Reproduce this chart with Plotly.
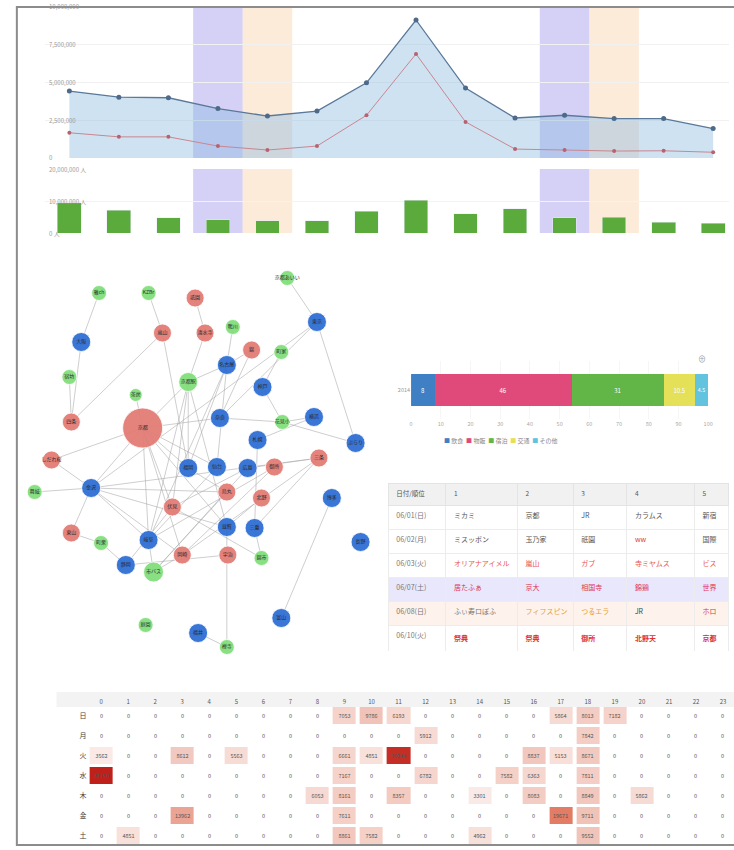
import plotly.graph_objects as go

W, H = 734, 850
FONT = "Noto Sans CJK JP, Noto Sans, sans-serif"


def px_x(v):
    return v / W


def px_y(v):
    return 1 - v / H


# ---------------- data: daily trend ----------------
dates = ["06/04", "06/05", "06/06", "06/07", "06/08", "06/09", "06/10",
         "06/11", "06/12", "06/13", "06/14", "06/15", "06/16", "06/17"]
weekday = ["水", "木", "金", "土", "日", "月", "火", "水", "木", "金", "土", "日", "月", "火"]
total_sales = [4430000, 4030000, 3990000, 3270000, 2780000, 3110000, 4980000,
               9140000, 4630000, 2650000, 2830000, 2610000, 2610000, 1950000]
member_sales = [1670000, 1400000, 1400000, 790000, 530000, 790000, 2830000,
                6890000, 2390000, 590000, 530000, 460000, 480000, 380000]
visitors = [9400000, 7100000, 4700000, 4100000, 3900000, 3900000, 6800000,
            10200000, 6000000, 7600000, 4700000, 4900000, 3300000, 3100000]
sales_ticks = [0, 2500000, 5000000, 7500000, 10000000]
visitor_ticks = [0, 10000000, 20000000]

# ---------------- data: network ----------------
node_ids = ["g1", "g2", "g3", "g4", "g5", "g6", "g7", "g8", "g9", "g10", "g11", "g12", "g13", "g14", "g15",
            "r1", "r2", "r3", "r4", "r5", "r6", "r7", "r8", "r9", "r10", "r11", "r12", "r13", "r14", "r15",
            "b1", "b2", "b3", "b4", "b5", "b6", "b7", "b8", "b9", "b10", "b11", "b12", "b13", "b14", "b15",
            "b16", "b17", "b18", "b19", "b20"]
node_labels = ["雅ch", "KZBr", "鴨川", "町家", "宿坊", "京都駅", "茶房", "花見小", "舞妓", "町衆", "市バス", "錦市", "庭園", "禅寺", "京都あいい",
               "祇園", "嵐山", "清水寺", "錦", "四条", "京都", "しだれ桜", "三条", "御所", "烏丸", "北野", "伏見", "東山", "岡崎", "宇治",
               "大阪", "東京", "名古屋", "神戸", "奈良", "横浜", "札幌", "ぶらり", "福岡", "仙台", "広島", "金沢", "博多", "滋賀", "三重",
               "岐阜", "静岡", "長野", "富山", "福井"]
node_group = ["green"] * 15 + ["red"] * 15 + ["blue"] * 20
node_x = [78, 128, 213, 262, 48, 168, 115, 263, 13, 80, 133, 242, 125, 207, 268,
          175, 142, 185, 232, 50, 122, 30, 300, 255, 207, 242, 152, 50, 162, 208,
          60, 298, 207, 243, 200, 295, 238, 337, 168, 197, 228, 70, 313, 207, 235,
          128, 105, 342, 262, 178]
node_y = [38, 38, 72, 97, 122, 127, 140, 167, 237, 288, 317, 303, 370, 392, 23,
          43, 78, 78, 95, 167, 173, 205, 203, 212, 237, 243, 252, 278, 300, 300,
          87, 67, 110, 132, 163, 162, 185, 188, 213, 212, 213, 233, 243, 272, 273,
          285, 310, 287, 363, 378]
node_weight = [15, 15, 15, 15, 15, 19, 13, 15, 15, 15, 20, 15, 15, 15, 15,
               18, 18, 18, 18, 18, 40, 18, 18, 18, 18, 18, 18, 18, 18, 18,
               19, 19, 19, 19, 19, 19, 19, 19, 19, 19, 19, 19, 19, 19, 19,
               19, 19, 19, 19, 19]
edges = [("r6", "b12"), ("r6", "b16"), ("r6", "g6"), ("r6", "b9"), ("r6", "r12"), ("r6", "b5"),
         ("r6", "r7"), ("r6", "g7"), ("r6", "b10"), ("r6", "r14"), ("r6", "b14"),
         ("r5", "r2"), ("b1", "r5"), ("g1", "b1"), ("g5", "r5"),
         ("b12", "b16"), ("b12", "r14"), ("b12", "b14"), ("b12", "r10"), ("b12", "r13"),
         ("b12", "r7"), ("b12", "g9"), ("b12", "r8"),
         ("g6", "b9"), ("g6", "b14"), ("g6", "r12"), ("g6", "b3"), ("g6", "r3"), ("g6", "b16"),
         ("b3", "b9"), ("b3", "b16"), ("b3", "r4"), ("b3", "b10"),
         ("b2", "b8"), ("b2", "b5"), ("b2", "b12"),
         ("b4", "g8"), ("b5", "g8"), ("g8", "b8"), ("b6", "b7"), ("b6", "g8"),
         ("r8", "b11"), ("r8", "b15"), ("r8", "r14"), ("r9", "r14"), ("r9", "b16"),
         ("r11", "b14"), ("b7", "b15"), ("b10", "b16"), ("b11", "r12"), ("b11", "g11"),
         ("r10", "b9"), ("r10", "g11"), ("r12", "b17"), ("r12", "g12"),
         ("b13", "b19"), ("b15", "g12"), ("b14", "g14"), ("b16", "g11"), ("g11", "r14"),
         ("r15", "b17"), ("r1", "r3"), ("g2", "r2"), ("r2", "b9"), ("g3", "b3"), ("g4", "b4"),
         ("r4", "b5"), ("g15", "b2"), ("b17", "g10"), ("r13", "g10"), ("b20", "g14")]
group_colors = {"green": "#82df7c", "red": "#e37c76", "blue": "#2f6fd4"}

# ---------------- data: share bar ----------------
share_category = ["2014"]
share_names = ["飲食", "物販", "宿泊", "交通", "その他"]
share_values = [8, 46, 31, 10.5, 4.5]
share_colors = ["#3f80c4", "#df4a7a", "#62b547", "#e4e057", "#62c3df"]
share_ticks = [0, 10, 20, 30, 40, 50, 60, 70, 80, 90, 100]

# ---------------- data: ranking table ----------------
table_header = ["日付/順位", "1", "2", "3", "4", "5"]
table_dates = ["06/01(日)", "06/02(月)", "06/03(火)", "06/07(土)", "06/08(日)", "06/10(火)"]
rank1 = ["ミカミ", "ミスッポン", "オリアナアイメル", "居たふぁ", "ふぃ寿ロぽふ", "<b>祭典</b>"]
rank2 = ["京都", "玉乃家", "嵐山", "京大", "フィフスピン", "<b>祭典</b>"]
rank3 = ["JR", "祇園", "ガブ", "相国寺", "つるエラ", "<b>御所</b>"]
rank4 = ["カラムス", "ww", "寺ミヤムス", "錦鶏", "JR", "<b>北野天</b>"]
rank5 = ["新宿", "国際", "ビス", "世界", "ホロ", "<b>京都</b>"]
row_kind = ["normal", "normal", "up", "weekend_sat", "weekend_sun", "hot"]

# ---------------- data: hourly heatmap ----------------
hours = list(range(24))
days = ["日", "月", "火", "水", "木", "金", "土"]
heat_sun = [0, 0, 0, 0, 0, 0, 0, 0, 0, 7053, 9786, 6193, 0, 0, 0, 0, 0, 5864, 8013, 7182, 0, 0, 0, 0]
heat_mon = [0, 0, 0, 0, 0, 0, 0, 0, 0, 0, 0, 0, 5912, 0, 0, 0, 0, 0, 7842, 0, 0, 0, 0, 0]
heat_tue = [3562, 0, 0, 8612, 0, 5563, 0, 0, 0, 6661, 4851, 30244, 0, 0, 0, 0, 8837, 5153, 8671, 0, 0, 0, 0, 0]
heat_wed = [32150, 0, 0, 0, 0, 0, 0, 0, 0, 7167, 0, 0, 6782, 0, 0, 7582, 6363, 0, 7811, 0, 0, 0, 0, 0]
heat_thu = [0, 0, 0, 0, 0, 0, 0, 0, 6053, 8161, 0, 8357, 0, 0, 3301, 0, 8083, 0, 8849, 0, 5862, 0, 0, 0]
heat_fri = [0, 0, 0, 13962, 0, 0, 0, 0, 0, 7611, 0, 0, 0, 0, 0, 0, 0, 19671, 9711, 0, 0, 0, 0, 0]
heat_sat = [0, 4851, 0, 0, 0, 0, 0, 0, 0, 8861, 7582, 0, 0, 0, 4962, 0, 0, 0, 9552, 0, 0, 0, 0, 0]

fig = go.Figure()

# ---- trend lines ----
fig.add_trace(go.Scatter(x=dates, y=total_sales, mode="lines+markers", xaxis="x", yaxis="y",
                         line=dict(color="#5a7898", width=1.3), marker=dict(size=5, color="#4d6a8a"),
                         fill="tozeroy", fillcolor="rgba(140,185,225,0.42)", showlegend=False))
fig.add_trace(go.Scatter(x=dates, y=member_sales, mode="lines+markers", xaxis="x", yaxis="y",
                         line=dict(color="#c98690", width=1), marker=dict(size=4, color="#b8626f"),
                         showlegend=False))
fig.add_trace(go.Bar(x=dates, y=visitors, xaxis="x2", yaxis="y2", marker_color="#5aab3c",
                     showlegend=False))

# ---- network ----
pos = {nid: (node_x[i], node_y[i]) for i, nid in enumerate(node_ids)}
ex, ey = [], []
for a, b in edges:
    ex += [pos[a][0], pos[b][0], None]
    ey += [pos[a][1], pos[b][1], None]
fig.add_trace(go.Scatter(x=ex, y=ey, mode="lines", xaxis="x3", yaxis="y3",
                         line=dict(color="rgba(165,165,165,0.55)", width=1), hoverinfo="skip",
                         showlegend=False))
fig.add_trace(go.Scatter(x=node_x, y=node_y, mode="markers+text", xaxis="x3", yaxis="y3",
                         text=node_labels, textposition="middle center",
                         textfont=dict(size=5, color="#2a2a2a", family=FONT),
                         marker=dict(size=node_weight, color=[group_colors[g] for g in node_group],
                                     opacity=0.95, line=dict(color="rgba(255,255,255,0.8)", width=1)),
                         showlegend=False))

# ---- share bar ----
for name, val, col in zip(share_names, share_values, share_colors):
    fig.add_trace(go.Bar(x=[val], y=share_category, orientation="h", xaxis="x4", yaxis="y4",
                         marker=dict(color=col, line=dict(width=0)), width=0.56, name=name,
                         text=[f"{val:g}"], textposition="inside", insidetextanchor="middle",
                         textfont=dict(size=6, color="white"), showlegend=False))

# ---- table ----
text_color = {"normal": "#555555", "up": "#e8554e", "weekend_sat": "#e0335a",
              "weekend_sun": "#666666", "hot": "#e03030"}
row_fill = {"normal": "#ffffff", "up": "#ffffff", "weekend_sat": "#e9e7fb",
            "weekend_sun": "#fdf3ec", "hot": "#ffffff"}
rank_cols = [rank1, rank2, rank3, rank4, rank5]
font_cols = [["#777777"] * len(table_dates)]
for ci, col in enumerate(rank_cols):
    cc = []
    for ri, kind in enumerate(row_kind):
        c = text_color[kind]
        if kind == "weekend_sun":
            c = ["#777777", "#e89a3a", "#e89a3a", "#444444", "#e03838"][ci]
        if kind == "normal" and col[ri] == "ww":
            c = "#e03838"
        cc.append(c)
    font_cols.append(cc)
fill_cols = [[row_fill[k] for k in row_kind] for _ in range(6)]
fig.add_trace(go.Table(
    domain=dict(x=[px_x(390), 1], y=[px_y(651), px_y(483)]),
    columnwidth=[58, 72, 56, 54, 68, 34],
    header=dict(values=table_header, fill_color="#f1f1f1", line_color="#e4e4e4", height=22,
                align="left", font=dict(size=6.5, color="#555555", family=FONT)),
    cells=dict(values=[table_dates] + rank_cols, fill_color=fill_cols, line_color="#ececec",
               height=24, align="left", font=dict(size=7, color=font_cols, family=FONT))))

# ---- heatmap ----
z = [heat_sun, heat_mon, heat_tue, heat_wed, heat_thu, heat_fri, heat_sat]
fig.add_trace(go.Heatmap(z=z, x=hours, y=days, xaxis="x5", yaxis="y5", xgap=4, ygap=3,
                         colorscale=[[0, "#ffffff"], [0.3, "#f1c3b8"], [0.62, "#e27a62"], [1, "#c0201a"]],
                         zmin=0, zmax=32150, showscale=False, texttemplate="%{z:d}",
                         textfont=dict(size=5.5, color="#555555")))

# ---- shapes ----
shapes = []
for i, wd in enumerate(weekday):
    if wd in ("土", "日"):
        col = "rgba(160,150,235,0.45)" if wd == "土" else "rgba(250,215,180,0.5)"
        for xr, yr in (("x", "y domain"), ("x2", "y2 domain")):
            shapes.append(dict(type="rect", xref=xr, yref=yr, x0=i - 0.5, x1=i + 0.5, y0=0, y1=1,
                               fillcolor=col, line=dict(width=0), layer="below"))
shapes.append(dict(type="rect", xref="paper", yref="paper", x0=px_x(55), x1=1.01,
                   y0=px_y(707), y1=px_y(692), fillcolor="#f3f3f3", line=dict(width=0), layer="below"))
shapes.append(dict(type="rect", xref="paper", yref="paper", x0=px_x(15), x1=1.02,
                   y0=px_y(845), y1=px_y(7), line=dict(color="#8c8c8c", width=2),
                   fillcolor="rgba(0,0,0,0)", layer="above"))

legend_text = "  ".join(f"<span style='color:{c}'>■</span> {n}" for n, c in zip(share_names, share_colors))
annotations = [
    dict(x=px_x(563), y=px_y(440), xref="paper", yref="paper", text=legend_text, showarrow=False,
         font=dict(size=6, color="#888888", family=FONT)),
    dict(x=px_x(713), y=px_y(358), xref="paper", yref="paper", text="⊕", showarrow=False,
         font=dict(size=8, color="#999999")),
]
# y tick labels drawn inside the plot, as in the reference
for v in sales_ticks:
    annotations.append(dict(x=px_x(45), y=v, xref="paper", yref="y", text=f"{v:,}",
                            xanchor="left", yanchor="middle", showarrow=False,
                            font=dict(size=6, color="#9a9a9a")))
for v in visitor_ticks:
    annotations.append(dict(x=px_x(45), y=v, xref="paper", yref="y2", text=f"{v:,} 人",
                            xanchor="left", yanchor="middle", showarrow=False,
                            font=dict(size=6, color="#9a9a9a")))

axis_hidden = dict(showgrid=False, zeroline=False, showticklabels=False, showline=False, ticks="")
fig.update_layout(
    width=W, height=H, margin=dict(l=0, r=0, t=0, b=0),
    paper_bgcolor="white", plot_bgcolor="rgba(0,0,0,0)",
    font=dict(family=FONT, size=7, color="#666666"),
    barmode="stack", bargap=0.52, showlegend=False,
    xaxis=dict(domain=[px_x(43), 1], range=[-0.5, 13.32], type="category", anchor="y", **axis_hidden),
    yaxis=dict(domain=[px_y(158), px_y(7)], range=[0, 10000000], tickvals=sales_ticks,
               showticklabels=False, showgrid=True, gridcolor="#f1f1f1", zeroline=False, anchor="x"),
    xaxis2=dict(domain=[px_x(43), 1], range=[-0.5, 13.32], type="category", anchor="y2",
                matches="x", **axis_hidden),
    yaxis2=dict(domain=[px_y(233), px_y(169)], range=[0, 20000000], tickvals=visitor_ticks,
                showticklabels=False, showgrid=True, gridcolor="#f3f3f3",
                zeroline=False, anchor="x2"),
    xaxis3=dict(domain=[px_x(20), px_x(380)], range=[0, 360], anchor="y3", **axis_hidden),
    yaxis3=dict(domain=[px_y(665), px_y(255)], range=[410, 0], anchor="x3", **axis_hidden),
    xaxis4=dict(domain=[px_x(413), px_x(713)], range=[0, 100], tickvals=share_ticks, anchor="y4",
                tickfont=dict(size=5.5, color="#aaaaaa"), showgrid=True, gridcolor="#f6f6f6",
                zeroline=False, ticks=""),
    yaxis4=dict(domain=[px_y(419), px_y(361)], anchor="x4", tickfont=dict(size=5.5, color="#999999"),
                showgrid=False, zeroline=False, ticks=""),
    xaxis5=dict(domain=[px_x(86.4), 1], range=[-0.5, 23.22], side="top", tickvals=hours, anchor="y5",
                tickfont=dict(size=6, color="#555555"), showgrid=False, zeroline=False, ticks=""),
    yaxis5=dict(domain=[px_y(846), px_y(706)], anchor="x5", autorange="reversed",
                tickfont=dict(size=7, color="#444444"), showgrid=False, zeroline=False, ticks=""),
    shapes=shapes, annotations=annotations,
)

fig.write_html("out.html", config={"displayModeBar": False},
               post_script="document.body.style.margin='0';document.body.style.overflow='hidden';")
